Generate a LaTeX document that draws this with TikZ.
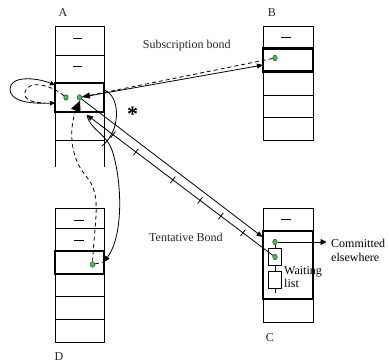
\documentclass[tikz,border=0pt]{standalone}
\usepackage{fontspec}
\setmainfont{Liberation Serif}
\usetikzlibrary{arrows.meta,calc,shapes.geometric}
\definecolor{dotgreen}{RGB}{60,200,70}
\begin{document}
\begin{tikzpicture}[x=1pt,y=-1pt,
  cell/.style={draw, line width=0.8pt},
  hl/.style={draw, line width=2.2pt, inner sep=0pt, outer sep=0pt},
  gdot/.style={ellipse, draw=black!75, line width=0.5pt, fill=dotgreen, minimum width=4.5pt, minimum height=5.5pt, inner sep=0pt},
  wbox/.style={draw, line width=0.8pt, minimum width=13pt, inner sep=0pt, outer sep=0pt},
  bar/.style={line width=1pt},
  lbl/.style={font=\fontsize{12pt}{14pt}\selectfont, text=black!85, inner sep=0pt},
  con/.style={line width=0.8pt},
  tip/.style={-{Triangle[length=6pt,width=5pt]}},
  bigtip/.style={-{Triangle[length=11pt,width=10pt]}},
  dsh/.style={dash pattern=on 4pt off 3pt},
]
\useasboundingbox (0,0) rectangle (389,364);

% ---------- stack A ----------
\draw[cell] (55,167) -- (55,26) -- (104,26) -- (104,167);
\draw[cell] (55,55) -- (104,55);
\draw[cell] (55,140) -- (104,140);
\node[hl, minimum width=49pt, minimum height=29pt] (aRow) at (79.5,97.5) {};
\draw[bar] (73,38.3) -- (82,38.3);
\draw[bar] (73,66) -- (82,66);
\node[lbl, anchor=base] (labA) at (63,16.7) {A};

% ---------- stack B ----------
\draw[cell] (263,26) rectangle (313,140);
\draw[cell] (263,95) -- (313,95);
\draw[cell] (263,117) -- (313,117);
\node[hl, minimum width=50pt, minimum height=23pt] (bRow) at (288,60) {};
\draw[bar] (281,37.7) -- (290.5,37.7);
\node[lbl, anchor=base] (labB) at (272,16.7) {B};

% ---------- stack D ----------
\draw[cell] (55,208.7) rectangle (104,342.3);
\draw[cell] (55,228.3) -- (104,228.3);
\draw[cell] (55,296.7) -- (104,296.7);
\draw[cell] (55,319.3) -- (104,319.3);
\node[hl, minimum width=49pt, minimum height=23pt] (dRow) at (79.5,262.5) {};
\draw[bar] (74,220) -- (84,220);
\draw[bar] (74,240.3) -- (84,240.3);
\node[lbl, anchor=base] (labD) at (59,360.7) {D};

% ---------- stack C ----------
\draw[cell] (263,208) rectangle (313,322);
\node[hl, minimum width=50pt, minimum height=68pt] (cRow) at (288,265) {};
\draw[bar] (281,219.3) -- (291,219.3);
\node[lbl, anchor=base] (labC) at (270,341.7) {C};

% ---------- dots ----------
\node[gdot] (aDot1) at (66,97.5) {};
\node[gdot] (aDot2) at (79.5,97.5) {};
\node[gdot] (bDot) at (275,58) {};
\node[gdot] (dDot) at (92.5,264.5) {};
\node[gdot] (cDot1) at (275,242) {};

% ---------- waiting list in C ----------
\node[wbox, minimum height=17pt] (wb1) at (275,256.5) {};
\node[wbox, minimum height=17pt] (wb2) at (275,279.5) {};
\node[gdot] (cDot2) at (275,257) {};
\coordinate (wEnd) at (275,293);
\draw[con] (cDot1) -- (wb1.north);
\draw[con] (wb1.south) -- (wb2.north);
\draw[con] (wb2.south) -- (wEnd);
\node[lbl, anchor=base west, text=black] (wl1) at (284,274) {Waiting};
\node[lbl, anchor=base west, text=black] (wl2) at (284,287) {list};

\coordinate (commit) at (326.5,242);
\draw[con, -{Triangle[length=6pt,width=6pt]}] (cDot1) -- (commit);
\node[lbl, anchor=base west, text=black] (ce1) at (331,247) {Committed};
\node[lbl, anchor=base west, text=black] (ce2) at (331,261) {elsewhere};

% ---------- labels ----------
\node[lbl, anchor=base west] (sub) at (142.7,48.5) {Subscription bond};
\node[lbl, anchor=base west] (ten) at (149,241) {Tentative Bond};
\node[inner sep=0pt, font=\fontsize{22pt}{22pt}\selectfont\bfseries] (star) at (132.5,114) {*};

% ---------- coordinates for free ends ----------
\coordinate (bIn) at ($(bRow.west)+(0,5)$);
\coordinate (cIn) at (262.5,237);
\coordinate (aTen) at (87,115);
\coordinate (dIn) at (104,262);
\coordinate (aUp) at (80,100.5);
\coordinate (aL1) at ($(aRow.north west)+(0,2)$);
\coordinate (aL2) at ($(aRow.south west)+(0,-9)$);
\coordinate (arc1) at (104,90);
\coordinate (arc2) at (102,146);

% ---------- subscription bond ----------
\draw[con, tip] (aDot2) -- (bIn);
\draw[con, dsh, -{Triangle[length=8pt,width=6pt]}] (bDot) -- (aDot2);

% ---------- self loop on A ----------
\draw[con, {Triangle[length=5pt,width=4.5pt]}-{Triangle[length=5pt,width=4.5pt]}]
  (aL2) .. controls (25,104) and (10,100) .. (10,89) .. controls (10,76) and (35,77) .. (aL1);
\draw[con, dsh] (aDot1) .. controls (50,84) and (28,80) .. (25,92) .. controls (23,101) and (35,102.5) .. (45,103);

% ---------- tentative bond ----------
\draw[con, tip] (aDot2) -- (cIn);
\draw[con, tip] (cDot2) -- (aTen);
\path (cDot2) -- (aTen)
  coordinate[pos=0.161] (t1) coordinate[pos=0.28] (t2) coordinate[pos=0.392] (t3)
  coordinate[pos=0.538] (t4) coordinate[pos=0.737] (t5) coordinate[pos=0.86] (t6);
\foreach \t in {t1,t2,t3,t4,t5,t6}
  \draw[con] ($(\t)!4pt!90:(aTen)$) -- ($(\t)!4pt!-90:(aTen)$);

% ---------- arc near * ----------
\draw[con] (arc1) .. controls (120,95) and (122,130) .. (arc2);

% ---------- A <-> D ----------
\draw[con, tip] (aTen) .. controls (90,130) and (105,132) .. (112,150) .. controls (122,180) and (124,235) .. (dIn);
\draw[con, dsh, bigtip] (dDot) .. controls (95,215) and (102,195) .. (86,176) .. controls (68,155) and (70,125) .. (aUp);
\draw[con, dsh] (dDot) -- (dIn);

\end{tikzpicture}
\end{document}
